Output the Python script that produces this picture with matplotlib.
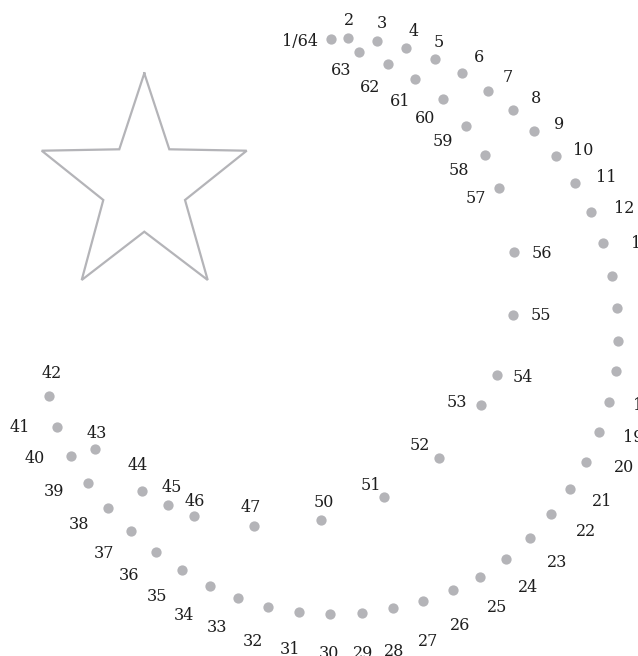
import numpy as np
import matplotlib
matplotlib.use("Agg")
import matplotlib.pyplot as plt


DOT_COLOR = "#b4b4b8"
TEXT_COLOR = "#1e1e1e"

# dot-to-dot points (image units, y downwards)
dot_labels = ["1/64", "2", "3", "4", "5", "6", "7", "8", "9", "10", "11", "12",
              "13", "14", "15", "16", "17", "18", "19", "20", "21", "22", "23",
              "24", "25", "26", "27", "28", "29", "30", "31", "32", "33", "34",
              "35", "36", "37", "38", "39", "40", "41", "42", "43", "44", "45",
              "46", "47", "50", "51", "52", "53", "54", "55", "56", "57", "58",
              "59", "60", "61", "62", "63"]

dot_x = [331, 348.3, 376.7, 406.3, 435.3, 462.3, 487.7, 512.7, 534, 556, 575.3, 591,
         603.3, 612, 617, 618.3, 615.7, 609, 599, 586, 570, 551.3, 530,
         505.7, 480, 453.3, 423.3, 393.3, 361.7, 330, 299, 268, 238, 210,
         182, 155.7, 131.3, 108.3, 88.3, 70.7, 57.3, 49.3, 94.7, 142, 167.7,
         194.3, 254, 321, 384.3, 439.3, 481, 497, 513.3, 513.7, 498.7, 485,
         466.3, 442.7, 415.3, 387.7, 359.3]

dot_y = [39.3, 37.7, 40.7, 48.3, 59.3, 73.3, 90.7, 110, 131.3, 156, 182.7, 212,
         243.3, 275.7, 308.3, 341.3, 371, 402, 432, 462, 489, 514.3, 538.3,
         559, 576.7, 590, 601, 608.3, 613.3, 614.3, 612.3, 606.7, 597.7, 585.7,
         570, 551.7, 531, 508, 482.7, 456, 426.7, 395.7, 449, 491.3, 505,
         515.7, 525.7, 520, 496.7, 457.7, 405, 375, 315, 251.7, 187.7, 155,
         126, 99.3, 78.7, 64.3, 52.3]

label_x = [299.5, 349, 381.7, 414, 438.3, 479.3, 507.3, 535.7, 558.7, 582.7, 606, 624,
           641, 650, 655, 656, 653, 643, 633, 624, 601.7, 585.7, 556.7,
           527.7, 497.3, 460, 428.3, 394.3, 363.3, 329.3, 290, 253.3, 217.3, 184.3,
           156.7, 129, 104, 79, 54, 35, 19.3, 51.7, 96.7, 137.7, 171.7,
           195, 250.7, 324.3, 371, 420, 456.7, 522.7, 540.7, 542.3, 476, 459,
           443.3, 425, 400, 370, 340.7]

label_y = [39, 18.3, 21.7, 29.3, 40.7, 55, 76, 96.7, 122.3, 148.3, 175.7, 206.7,
           241, 274, 307, 340, 371, 403, 435, 466, 499, 529.3, 560.7,
           585, 605, 624, 640, 649, 651, 651, 647.7, 640, 626, 613.3,
           594.3, 574, 551.7, 522.3, 490, 456.7, 426, 371.7, 431.7, 463.3, 486,
           499, 506, 500.7, 483.3, 443.3, 400.7, 375.7, 313, 252, 196.7, 168.3,
           140, 116.7, 100, 85, 68.3]

# star outline vertices
star_x = [144.3, 169.3, 246.7, 185, 207.7, 144.3, 81.7, 103.3, 41.7, 119.3, 144.3]
star_y = [73.3, 149.3, 150.7, 200, 280, 231.7, 280, 200, 150.7, 149.3, 73.3]


def main():
    fig = plt.figure(figsize=(6.38, 6.56), dpi=100)
    ax = fig.add_axes([0, 0, 1, 1])
    ax.set_xlim(0, 638)
    ax.set_ylim(656, 0)
    ax.axis("off")

    ax.plot(star_x, star_y, color=DOT_COLOR, lw=1.6, solid_joinstyle="miter")

    ax.plot(dot_x, dot_y, "o", color=DOT_COLOR, ms=7.4, mec="none")

    for lab, lx, ly in zip(dot_labels, label_x, label_y):
        ax.text(lx, ly, lab, ha="center", va="center_baseline",
                fontsize=11.5, family="DejaVu Serif", color=TEXT_COLOR)

    fig.savefig("out.png", dpi=100)


if __name__ == "__main__":
    main()
